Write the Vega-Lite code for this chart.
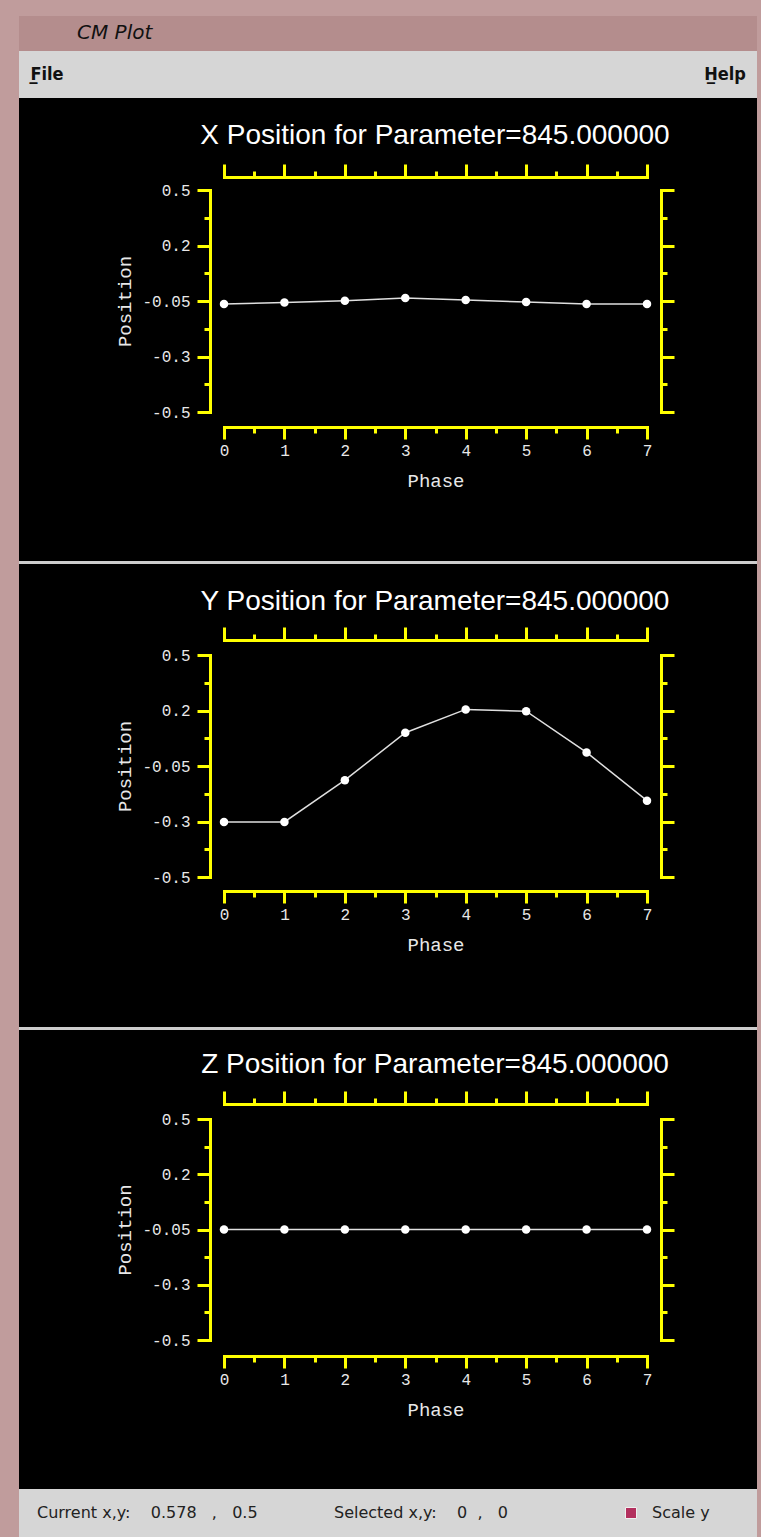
{
  "$schema": "https://vega.github.io/schema/vega-lite/v6.json",
  "background": "#c09c9c",
  "padding": {"left": 19, "top": 16, "right": 4, "bottom": 0},
  "spacing": 0,
  "bounds": "flush",
  "datasets": {
    "xpos": [
      {"phase": 0, "position": -0.063},
      {"phase": 1, "position": -0.057},
      {"phase": 2, "position": -0.049},
      {"phase": 3, "position": -0.037},
      {"phase": 4, "position": -0.046},
      {"phase": 5, "position": -0.055},
      {"phase": 6, "position": -0.063},
      {"phase": 7, "position": -0.063}
    ],
    "ypos": [
      {"phase": 0, "position": -0.302},
      {"phase": 1, "position": -0.302},
      {"phase": 2, "position": -0.114},
      {"phase": 3, "position": 0.1},
      {"phase": 4, "position": 0.205},
      {"phase": 5, "position": 0.197},
      {"phase": 6, "position": 0.011},
      {"phase": 7, "position": -0.206}
    ],
    "zpos": [
      {"phase": 0, "position": -0.05},
      {"phase": 1, "position": -0.05},
      {"phase": 2, "position": -0.05},
      {"phase": 3, "position": -0.05},
      {"phase": 4, "position": -0.05},
      {"phase": 5, "position": -0.05},
      {"phase": 6, "position": -0.05},
      {"phase": 7, "position": -0.05}
    ],
    "menu": [{"menu": "F\u0332ile"}, {"menu": "H\u0332elp"}],
    "status": [
      {"slot": "current", "label": "Current x,y:\u00a0\u00a0\u00a0 0.578\u00a0\u00a0\u00a0,\u00a0\u00a0 0.5"},
      {"slot": "selected", "label": "Selected x,y:\u00a0\u00a0\u00a0 0\u00a0\u00a0,\u00a0\u00a0 0"},
      {"slot": "scale", "label": "Scale y"}
    ]
  },
  "vconcat": [
    {
      "width": 738, "height": 35,
      "view": {"fill": "#b48d8d", "stroke": null},
      "title": {"text": "CM Plot", "anchor": "start", "frame": "group", "dx": 58, "offset": -27, "font": "DejaVu Sans", "fontSize": 20, "fontStyle": "italic", "fontWeight": "normal", "color": "#111111"},
      "data": {"values": [{}]},
      "mark": {"type": "text", "text": ""}
    },
    {
      "width": 738, "height": 47,
      "view": {"fill": "#d6d6d6", "stroke": null},
      "data": {"name": "menu"},
      "mark": {"type": "text", "font": "Liberation Sans Narrow, DejaVu Sans Condensed, sans-serif", "fontSize": 18, "fontWeight": "bold", "color": "#111111"},
      "encoding": {
        "x": {"field": "menu", "type": "nominal", "scale": {"type": "point", "range": [28, 706], "padding": 0, "domain": ["F\u0332ile", "H\u0332elp"]}, "axis": null},
        "text": {"field": "menu"}
      }
    },
    {
      "width": 738, "height": 463,
      "view": {"fill": "#000000", "stroke": null},
      "title": {"text": "X Position for Parameter=845.000000", "anchor": "middle", "frame": "group", "offset": -52, "dx": 47, "font": "Liberation Sans", "fontSize": 28, "fontWeight": "normal", "color": "#ffffff"},
      "data": {"name": "xpos"},
      "layer": [
        {
          "mark": {"type": "line", "color": "#e0e0e0", "strokeWidth": 1.5},
          "encoding": {
            "x": {"field": "phase", "type": "quantitative", "scale": {"domain": [0, 7], "range": [205, 628], "nice": false, "zero": false},
              "axis": {"orient": "bottom", "offset": -134, "values": [0, 0.5, 1, 1.5, 2, 2.5, 3, 3.5, 4, 4.5, 5, 5.5, 6, 6.5, 7], "tickSize": {"condition": {"test": "datum.value % 1 == 0", "value": 12}, "value": 6}, "labelExpr": "datum.value % 1 == 0 ? '' + datum.value : ''", "labelPadding": 3, "title": "Phase", "titlePadding": 13}},
            "y": {"field": "position", "type": "quantitative", "scale": {"domain": [-0.55, 0.45], "range": [314, 92], "nice": false, "zero": false},
              "axis": {"orient": "left", "offset": -191, "values": [-0.55, -0.425, -0.3, -0.175, -0.05, 0.075, 0.2, 0.325, 0.45], "tickSize": {"condition": {"test": "indexof([-0.55, -0.3, -0.05, 0.2, 0.45], datum.value) >= 0", "value": 13}, "value": 6}, "labelExpr": "datum.value == 0.45 ? '0.5' : datum.value == 0.2 ? '0.2' : datum.value == -0.05 ? '-0.05' : datum.value == -0.3 ? '-0.3' : datum.value == -0.55 ? '-0.5' : ''", "labelPadding": 7, "title": "Position", "titlePadding": 7}}
          }
        },
        {
          "mark": {"type": "point", "filled": true, "color": "#ffffff", "size": 72, "opacity": 1},
          "encoding": {
            "x": {"field": "phase", "type": "quantitative", "scale": {"domain": [0, 7], "range": [205, 628], "nice": false, "zero": false},
              "axis": {"orient": "top", "offset": -79, "values": [0, 0.5, 1, 1.5, 2, 2.5, 3, 3.5, 4, 4.5, 5, 5.5, 6, 6.5, 7], "tickSize": {"condition": {"test": "datum.value % 1 == 0", "value": 13}, "value": 6}, "labels": false, "title": null}},
            "y": {"field": "position", "type": "quantitative", "scale": {"domain": [-0.55, 0.45], "range": [314, 92], "nice": false, "zero": false},
              "axis": {"orient": "right", "offset": -96, "values": [-0.55, -0.425, -0.3, -0.175, -0.05, 0.075, 0.2, 0.325, 0.45], "tickSize": {"condition": {"test": "indexof([-0.55, -0.3, -0.05, 0.2, 0.45], datum.value) >= 0", "value": 13}, "value": 6}, "labels": false, "title": null}}
          }
        }
      ],
      "resolve": {"axis": {"x": "independent", "y": "independent"}}
    },
    {
      "width": 738, "height": 3,
      "view": {"fill": "#cdcdcd", "stroke": null},
      "data": {"values": [{}]},
      "mark": {"type": "text", "text": ""}
    },
    {
      "width": 738, "height": 463,
      "view": {"fill": "#000000", "stroke": null},
      "title": {"text": "Y Position for Parameter=845.000000", "anchor": "middle", "frame": "group", "offset": -52, "dx": 47, "font": "Liberation Sans", "fontSize": 28, "fontWeight": "normal", "color": "#ffffff"},
      "data": {"name": "ypos"},
      "layer": [
        {
          "mark": {"type": "line", "color": "#e0e0e0", "strokeWidth": 1.5},
          "encoding": {
            "x": {"field": "phase", "type": "quantitative", "scale": {"domain": [0, 7], "range": [205, 628], "nice": false, "zero": false},
              "axis": {"orient": "bottom", "offset": -136, "values": [0, 0.5, 1, 1.5, 2, 2.5, 3, 3.5, 4, 4.5, 5, 5.5, 6, 6.5, 7], "tickSize": {"condition": {"test": "datum.value % 1 == 0", "value": 12}, "value": 6}, "labelExpr": "datum.value % 1 == 0 ? '' + datum.value : ''", "labelPadding": 3, "title": "Phase", "titlePadding": 13}},
            "y": {"field": "position", "type": "quantitative", "scale": {"domain": [-0.55, 0.45], "range": [313, 91], "nice": false, "zero": false},
              "axis": {"orient": "left", "offset": -191, "values": [-0.55, -0.425, -0.3, -0.175, -0.05, 0.075, 0.2, 0.325, 0.45], "tickSize": {"condition": {"test": "indexof([-0.55, -0.3, -0.05, 0.2, 0.45], datum.value) >= 0", "value": 13}, "value": 6}, "labelExpr": "datum.value == 0.45 ? '0.5' : datum.value == 0.2 ? '0.2' : datum.value == -0.05 ? '-0.05' : datum.value == -0.3 ? '-0.3' : datum.value == -0.55 ? '-0.5' : ''", "labelPadding": 7, "title": "Position", "titlePadding": 7}}
          }
        },
        {
          "mark": {"type": "point", "filled": true, "color": "#ffffff", "size": 72, "opacity": 1},
          "encoding": {
            "x": {"field": "phase", "type": "quantitative", "scale": {"domain": [0, 7], "range": [205, 628], "nice": false, "zero": false},
              "axis": {"orient": "top", "offset": -76, "values": [0, 0.5, 1, 1.5, 2, 2.5, 3, 3.5, 4, 4.5, 5, 5.5, 6, 6.5, 7], "tickSize": {"condition": {"test": "datum.value % 1 == 0", "value": 13}, "value": 6}, "labels": false, "title": null}},
            "y": {"field": "position", "type": "quantitative", "scale": {"domain": [-0.55, 0.45], "range": [313, 91], "nice": false, "zero": false},
              "axis": {"orient": "right", "offset": -96, "values": [-0.55, -0.425, -0.3, -0.175, -0.05, 0.075, 0.2, 0.325, 0.45], "tickSize": {"condition": {"test": "indexof([-0.55, -0.3, -0.05, 0.2, 0.45], datum.value) >= 0", "value": 13}, "value": 6}, "labels": false, "title": null}}
          }
        }
      ],
      "resolve": {"axis": {"x": "independent", "y": "independent"}}
    },
    {
      "width": 738, "height": 3,
      "view": {"fill": "#cdcdcd", "stroke": null},
      "data": {"values": [{}]},
      "mark": {"type": "text", "text": ""}
    },
    {
      "width": 738, "height": 459,
      "view": {"fill": "#000000", "stroke": null},
      "title": {"text": "Z Position for Parameter=845.000000", "anchor": "middle", "frame": "group", "offset": -49, "dx": 47, "font": "Liberation Sans", "fontSize": 28, "fontWeight": "normal", "color": "#ffffff"},
      "data": {"name": "zpos"},
      "layer": [
        {
          "mark": {"type": "line", "color": "#e0e0e0", "strokeWidth": 1.5},
          "encoding": {
            "x": {"field": "phase", "type": "quantitative", "scale": {"domain": [0, 7], "range": [205, 628], "nice": false, "zero": false},
              "axis": {"orient": "bottom", "offset": -133, "values": [0, 0.5, 1, 1.5, 2, 2.5, 3, 3.5, 4, 4.5, 5, 5.5, 6, 6.5, 7], "tickSize": {"condition": {"test": "datum.value % 1 == 0", "value": 12}, "value": 6}, "labelExpr": "datum.value % 1 == 0 ? '' + datum.value : ''", "labelPadding": 3, "title": "Phase", "titlePadding": 13}},
            "y": {"field": "position", "type": "quantitative", "scale": {"domain": [-0.55, 0.45], "range": [310, 89], "nice": false, "zero": false},
              "axis": {"orient": "left", "offset": -191, "values": [-0.55, -0.425, -0.3, -0.175, -0.05, 0.075, 0.2, 0.325, 0.45], "tickSize": {"condition": {"test": "indexof([-0.55, -0.3, -0.05, 0.2, 0.45], datum.value) >= 0", "value": 13}, "value": 6}, "labelExpr": "datum.value == 0.45 ? '0.5' : datum.value == 0.2 ? '0.2' : datum.value == -0.05 ? '-0.05' : datum.value == -0.3 ? '-0.3' : datum.value == -0.55 ? '-0.5' : ''", "labelPadding": 7, "title": "Position", "titlePadding": 7}}
          }
        },
        {
          "mark": {"type": "point", "filled": true, "color": "#ffffff", "size": 72, "opacity": 1},
          "encoding": {
            "x": {"field": "phase", "type": "quantitative", "scale": {"domain": [0, 7], "range": [205, 628], "nice": false, "zero": false},
              "axis": {"orient": "top", "offset": -74, "values": [0, 0.5, 1, 1.5, 2, 2.5, 3, 3.5, 4, 4.5, 5, 5.5, 6, 6.5, 7], "tickSize": {"condition": {"test": "datum.value % 1 == 0", "value": 13}, "value": 6}, "labels": false, "title": null}},
            "y": {"field": "position", "type": "quantitative", "scale": {"domain": [-0.55, 0.45], "range": [310, 89], "nice": false, "zero": false},
              "axis": {"orient": "right", "offset": -96, "values": [-0.55, -0.425, -0.3, -0.175, -0.05, 0.075, 0.2, 0.325, 0.45], "tickSize": {"condition": {"test": "indexof([-0.55, -0.3, -0.05, 0.2, 0.45], datum.value) >= 0", "value": 13}, "value": 6}, "labels": false, "title": null}}
          }
        }
      ],
      "resolve": {"axis": {"x": "independent", "y": "independent"}}
    },
    {
      "width": 738, "height": 48,
      "view": {"fill": "#d6d6d6", "stroke": null},
      "data": {"name": "status"},
      "layer": [
        {
          "transform": [{"filter": "datum.slot != 'scale'"}],
          "mark": {"type": "text", "align": "left", "font": "DejaVu Sans", "fontSize": 16, "color": "#222222"},
          "encoding": {
            "x": {"field": "slot", "type": "nominal", "scale": {"type": "point", "range": [18, 612], "padding": 0, "domain": ["current", "selected", "scale"]}, "axis": null},
            "text": {"field": "label"}
          }
        },
        {
          "transform": [{"filter": "datum.slot == 'scale'"}],
          "mark": {"type": "text", "align": "left", "dx": 21, "font": "DejaVu Sans", "fontSize": 16, "color": "#222222"},
          "encoding": {
            "x": {"field": "slot", "type": "nominal", "scale": {"type": "point", "range": [18, 612], "padding": 0, "domain": ["current", "selected", "scale"]}, "axis": null},
            "text": {"field": "label"}
          }
        },
        {
          "transform": [{"filter": "datum.slot == 'scale'"}],
          "mark": {"type": "square", "filled": true, "size": 121, "color": "#b3305e", "stroke": "#f0f0f0", "strokeWidth": 1, "opacity": 1},
          "encoding": {
            "x": {"field": "slot", "type": "nominal", "scale": {"type": "point", "range": [18, 612], "padding": 0, "domain": ["current", "selected", "scale"]}, "axis": null}
          }
        }
      ]
    }
  ],
  "config": {
    "view": {"stroke": null},
    "axis": {
      "grid": false,
      "domainColor": "#ffff00",
      "domainWidth": 3,
      "domainCap": "square",
      "tickColor": "#ffff00",
      "tickWidth": 3,
      "labelColor": "#e8e8e8",
      "labelFont": "Liberation Mono",
      "labelFontSize": 16,
      "labelFlush": false,
      "labelOverlap": false,
      "labelBound": false,
      "titleColor": "#e8e8e8",
      "titleFont": "Liberation Mono",
      "titleFontSize": 19,
      "titleFontWeight": "normal"
    }
  }
}
